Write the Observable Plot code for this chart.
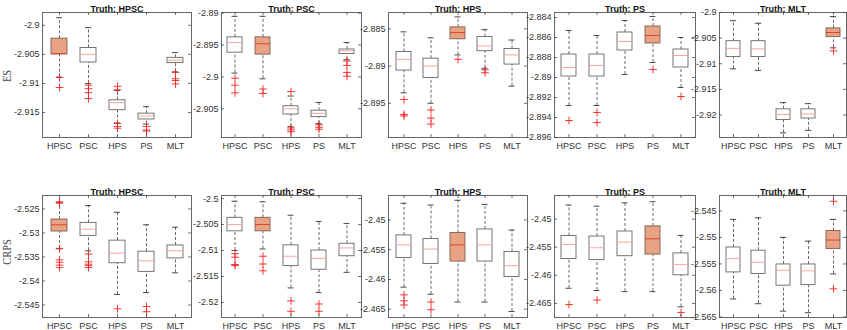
<!DOCTYPE html>
<html><head><meta charset="utf-8">
<script src="https://cdn.jsdelivr.net/npm/d3@7"></script>
<script src="https://cdn.jsdelivr.net/npm/@observablehq/plot@0.6"></script>
<style>
body{margin:0;background:#fff;}
#fig{position:relative;width:847px;height:330px;overflow:hidden;background:#fff;font-family:"Liberation Sans",Arial,sans-serif;}
.panel{position:absolute;}
.rowlab{position:absolute;font-family:"Liberation Serif","DejaVu Serif",serif;font-size:13px;color:#444;text-decoration:overline;transform:translate(-50%,-50%) rotate(-90deg) scale(0.8,1);white-space:nowrap;}
</style></head><body><div id="fig"></div>
<script>
// ---------------- DATA ----------------
const categories = ["HPSC", "PSC", "HPS", "PS", "MLT"];
const truthModels = ["HPSC", "PSC", "HPS", "PS", "MLT"];
const metricNames = ["ES", "CRPS"];

// each row: [lower whisker, q1, median, q3, upper whisker], one row per category
const esHPSC = [[-2.9089,-2.9050,-2.9049,-2.9023,-2.8987],[-2.9100,-2.9064,-2.9050,-2.9039,-2.9004],[-2.9168,-2.9146,-2.9133,-2.9129,-2.9112],[-2.9170,-2.9162,-2.9156,-2.9152,-2.9140],[-2.9080,-2.9065,-2.9060,-2.9056,-2.9047]];
const esHPSCOut = [[-2.9090,-2.9107],[-2.9103,-2.9109,-2.9116,-2.9126],[-2.9105,-2.9111,-2.9169,-2.9174,-2.9177],[-2.9174,-2.9180,-2.9182],[-2.9081,-2.9092,-2.9095,-2.9101]];
const esHPSCTicks = [-2.915,-2.91,-2.905,-2.9];
const esHPSCRange = [-2.9193,-2.8978];

const esPSC = [[-2.8994,-2.8962,-2.8946,-2.8938,-2.8905],[-2.9003,-2.8965,-2.8948,-2.8938,-2.8905],[-2.9078,-2.9059,-2.9050,-2.9046,-2.9030],[-2.9073,-2.9063,-2.9057,-2.9053,-2.9040],[-2.8973,-2.8964,-2.8959,-2.8957,-2.8946]];
const esPSCOut = [[-2.9002,-2.9013,-2.9025],[-2.9019,-2.9026],[-2.9023,-2.9080,-2.9083,-2.9086],[-2.9075,-2.9079,-2.9082],[-2.8975,-2.8982,-2.8993,-2.8999]];
const esPSCTicks = [-2.905,-2.9,-2.895,-2.89];
const esPSCRange = [-2.9095,-2.8899];

const esHPS = [[-2.8936,-2.8906,-2.8891,-2.8881,-2.8854],[-2.8950,-2.8916,-2.8900,-2.8890,-2.8862],[-2.8885,-2.8864,-2.8855,-2.8848,-2.8834],[-2.8903,-2.8880,-2.8873,-2.8861,-2.8851],[-2.8927,-2.8898,-2.8885,-2.8877,-2.8865]];
const esHPSOut = [[-2.8945,-2.8965,-2.8967],[-2.8959,-2.8970,-2.8978],[-2.8891],[-2.8905,-2.8909],[]];
const esHPSTicks = [-2.895,-2.89,-2.885];
const esHPSRange = [-2.8996,-2.8828];

const esPS = [[-2.8928,-2.8899,-2.8890,-2.8877,-2.8853],[-2.8928,-2.8899,-2.8888,-2.8877,-2.8858],[-2.8897,-2.8873,-2.8864,-2.8855,-2.8843],[-2.8885,-2.8866,-2.8858,-2.8849,-2.8839],[-2.8910,-2.8890,-2.8878,-2.8872,-2.8860]];
const esPSOut = [[-2.8943],[-2.8935,-2.8945],[],[-2.8892],[-2.8919]];
const esPSTicks = [-2.896,-2.894,-2.892,-2.89,-2.888,-2.886,-2.884];
const esPSRange = [-2.896,-2.8835];

const esMLT = [[-2.9110,-2.9087,-2.9070,-2.9056,-2.9016],[-2.9113,-2.9087,-2.9071,-2.9056,-2.9021],[-2.9235,-2.9210,-2.9199,-2.9189,-2.9176],[-2.9230,-2.9207,-2.9198,-2.9189,-2.9178],[-2.9069,-2.9048,-2.9039,-2.9031,-2.9008]];
const esMLTOut = [[],[],[],[],[-2.9075]];
const esMLTTicks = [-2.92,-2.915,-2.91,-2.905,-2.9];
const esMLTRange = [-2.9244,-2.9];

const crpsHPSC = [[-2.5332,-2.5297,-2.5283,-2.5272,-2.5237],[-2.5337,-2.5306,-2.5292,-2.5279,-2.5243],[-2.5428,-2.5363,-2.5342,-2.5316,-2.5257],[-2.5424,-2.5381,-2.5358,-2.5339,-2.5283],[-2.5383,-2.5353,-2.5337,-2.5326,-2.5288]];
const crpsHPSCOut = [[-2.5235,-2.5238,-2.5333,-2.5356,-2.5361,-2.5367,-2.5372],[-2.5344,-2.5360,-2.5365,-2.5368,-2.5372],[-2.5458],[-2.5453,-2.5464],[]];
const crpsHPSCTicks = [-2.545,-2.54,-2.535,-2.53,-2.525];
const crpsHPSCRange = [-2.5476,-2.5222];

const crpsPSC = [[-2.5100,-2.5063,-2.5050,-2.5037,-2.5005],[-2.5097,-2.5063,-2.5050,-2.5037,-2.5006],[-2.5172,-2.5130,-2.5111,-2.5090,-2.5032],[-2.5181,-2.5137,-2.5115,-2.5100,-2.5044],[-2.5142,-2.5111,-2.5095,-2.5087,-2.5048]];
const crpsPSCOut = [[-2.5106,-2.5113,-2.5127,-2.5129],[-2.5111,-2.5126,-2.5139],[-2.5197,-2.5217],[-2.5203,-2.5217],[]];
const crpsPSCTicks = [-2.52,-2.515,-2.51,-2.505,-2.5];
const crpsPSCRange = [-2.5229,-2.4994];

const crpsHPS = [[-2.4613,-2.4564,-2.4542,-2.4526,-2.4472],[-2.4625,-2.4574,-2.4549,-2.4532,-2.4475],[-2.4638,-2.4570,-2.4542,-2.4522,-2.4467],[-2.4638,-2.4570,-2.4542,-2.4516,-2.4474],[-2.4654,-2.4596,-2.4577,-2.4554,-2.4517]];
const crpsHPSOut = [[-2.4626,-2.4636,-2.4643],[-2.4638,-2.4651],[],[],[]];
const crpsHPSTicks = [-2.465,-2.46,-2.455,-2.45];
const crpsHPSRange = [-2.4664,-2.4459];

const crpsPS = [[-2.4623,-2.4571,-2.4545,-2.4530,-2.4475],[-2.4627,-2.4573,-2.4551,-2.4531,-2.4477],[-2.4629,-2.4566,-2.4541,-2.4522,-2.4471],[-2.4629,-2.4563,-2.4535,-2.4513,-2.4469],[-2.4656,-2.4600,-2.4581,-2.4561,-2.4529]];
const crpsPSOut = [[-2.4652],[-2.4644],[],[],[-2.4666]];
const crpsPSTicks = [-2.465,-2.46,-2.455,-2.45];
const crpsPSRange = [-2.4675,-2.4458];

const crpsMLT = [[-2.5616,-2.5566,-2.5540,-2.5519,-2.5466],[-2.5625,-2.5569,-2.5547,-2.5525,-2.5463],[-2.5639,-2.5591,-2.5562,-2.5551,-2.5500],[-2.5642,-2.5590,-2.5563,-2.5551,-2.5507],[-2.5569,-2.5522,-2.5505,-2.5488,-2.5466]];
const crpsMLTOut = [[],[],[],[],[-2.5432,-2.5597]];
const crpsMLTTicks = [-2.565,-2.56,-2.555,-2.55,-2.545];
const crpsMLTRange = [-2.5651,-2.5421];

// ---------------- LAYOUT ----------------
const panelData = [
  [esHPSC, esHPSCOut, esHPSCTicks, esHPSCRange],
  [esPSC, esPSCOut, esPSCTicks, esPSCRange],
  [esHPS, esHPSOut, esHPSTicks, esHPSRange],
  [esPS, esPSOut, esPSTicks, esPSRange],
  [esMLT, esMLTOut, esMLTTicks, esMLTRange],
  [crpsHPSC, crpsHPSCOut, crpsHPSCTicks, crpsHPSCRange],
  [crpsPSC, crpsPSCOut, crpsPSCTicks, crpsPSCRange],
  [crpsHPS, crpsHPSOut, crpsHPSTicks, crpsHPSRange],
  [crpsPS, crpsPSOut, crpsPSTicks, crpsPSRange],
  [crpsMLT, crpsMLTOut, crpsMLTTicks, crpsMLTRange]
];
const colX = [[42,191],[221,361],[388,527],[554,695],[719,846]];
const rowY = [[12,137],[195,317]];
const fig = document.getElementById("fig");
const ml = 48, mr = 6, mt = 16, mb = 20;

panelData.forEach(([stats, outl, ticks, range], k) => {
  const r = Math.floor(k / 5), c = k % 5;
  const truth = truthModels[c];
  const [x0, x1] = colX[c], [y0, y1] = rowY[r];
  const W = x1 - x0, H = y1 - y0;
  const rows = categories.map((cat, i) => ({cat, lo: stats[i][0], q1: stats[i][1], med: stats[i][2], q3: stats[i][3], hi: stats[i][4], truth: cat === truth}));
  const outs = categories.flatMap((cat, i) => outl[i].map(v => ({cat, v})));
  const bw = W / 5 * 0.54;
  const capInset = Math.max(0, (bw - 6) / 2);
  const whisk = {stroke: "#444", strokeWidth: 0.8, strokeDasharray: "3,2"};
  const svg = Plot.plot({
    width: W + ml + mr, height: H + mt + mb,
    marginLeft: ml, marginRight: mr, marginTop: mt, marginBottom: mb,
    style: {background: "transparent", overflow: "visible", fontFamily: "'Liberation Sans', Arial, sans-serif"},
    x: {domain: categories, paddingInner: 0.46, paddingOuter: 0.23, axis: null, label: null},
    y: {domain: range, axis: null, label: null},
    marks: [
      Plot.ruleX(rows, {x: "cat", y1: "q3", y2: "hi", ...whisk}),
      Plot.ruleX(rows, {x: "cat", y1: "lo", y2: "q1", ...whisk}),
      Plot.tickY(rows, {x: "cat", y: "hi", insetLeft: capInset, insetRight: capInset, stroke: "#333", strokeWidth: 0.9}),
      Plot.tickY(rows, {x: "cat", y: "lo", insetLeft: capInset, insetRight: capInset, stroke: "#333", strokeWidth: 0.9}),
      Plot.barY(rows, {filter: d => !d.truth, x: "cat", y1: "q1", y2: "q3", fill: "white", stroke: "#666", strokeWidth: 0.9}),
      Plot.barY(rows, {filter: d => d.truth, x: "cat", y1: "q1", y2: "q3", fill: "#eaa284", stroke: "#7d5f52", strokeWidth: 0.9}),
      Plot.tickY(rows, {filter: d => !d.truth, x: "cat", y: "med", stroke: "#f5a5a5", strokeWidth: 1}),
      Plot.tickY(rows, {filter: d => d.truth, x: "cat", y: "med", stroke: "#d8462c", strokeWidth: 1}),
      Plot.dot(outs, {x: "cat", y: "v", symbol: "plus", r: 2.6, stroke: "#ee2222", strokeWidth: 0.9}),
      Plot.frame({stroke: "#666", strokeWidth: 1}),
      Plot.ruleY(ticks, {y: d => d, insetRight: W - 3, stroke: "#333", strokeWidth: 0.7}),
      Plot.ruleY(ticks, {y: d => d, insetLeft: W - 3, stroke: "#333", strokeWidth: 0.7}),
      Plot.ruleX(categories, {x: d => d, insetTop: H - 3, stroke: "#333", strokeWidth: 0.7}),
      Plot.ruleX(categories, {x: d => d, insetBottom: H - 3, stroke: "#333", strokeWidth: 0.7}),
      Plot.axisY(ticks, {anchor: "left", tickSize: 0, tickPadding: 3, tickFormat: d => String(d), fontSize: 9, fill: "#333", label: null}),
      Plot.axisX(categories, {anchor: "bottom", tickSize: 0, tickPadding: 5, fontSize: 9, fill: "#333", label: null}),
      Plot.text(["Truth: " + truth], {frameAnchor: "top", dy: -7, text: d => d, fontWeight: "bold", fontSize: 9, fill: "#111"})
    ]
  });
  svg.classList.add("panel");
  svg.style.left = (x0 - ml) + "px";
  svg.style.top = (y0 - mt) + "px";
  fig.appendChild(svg);
});

// row (metric) labels
const rowLabelY = [76, 252];
metricNames.forEach((m, i) => {
  const d = document.createElement("div");
  d.className = "rowlab";
  d.textContent = m;
  d.style.left = "7px";
  d.style.top = rowLabelY[i] + "px";
  fig.appendChild(d);
});
</script>
</body></html>
